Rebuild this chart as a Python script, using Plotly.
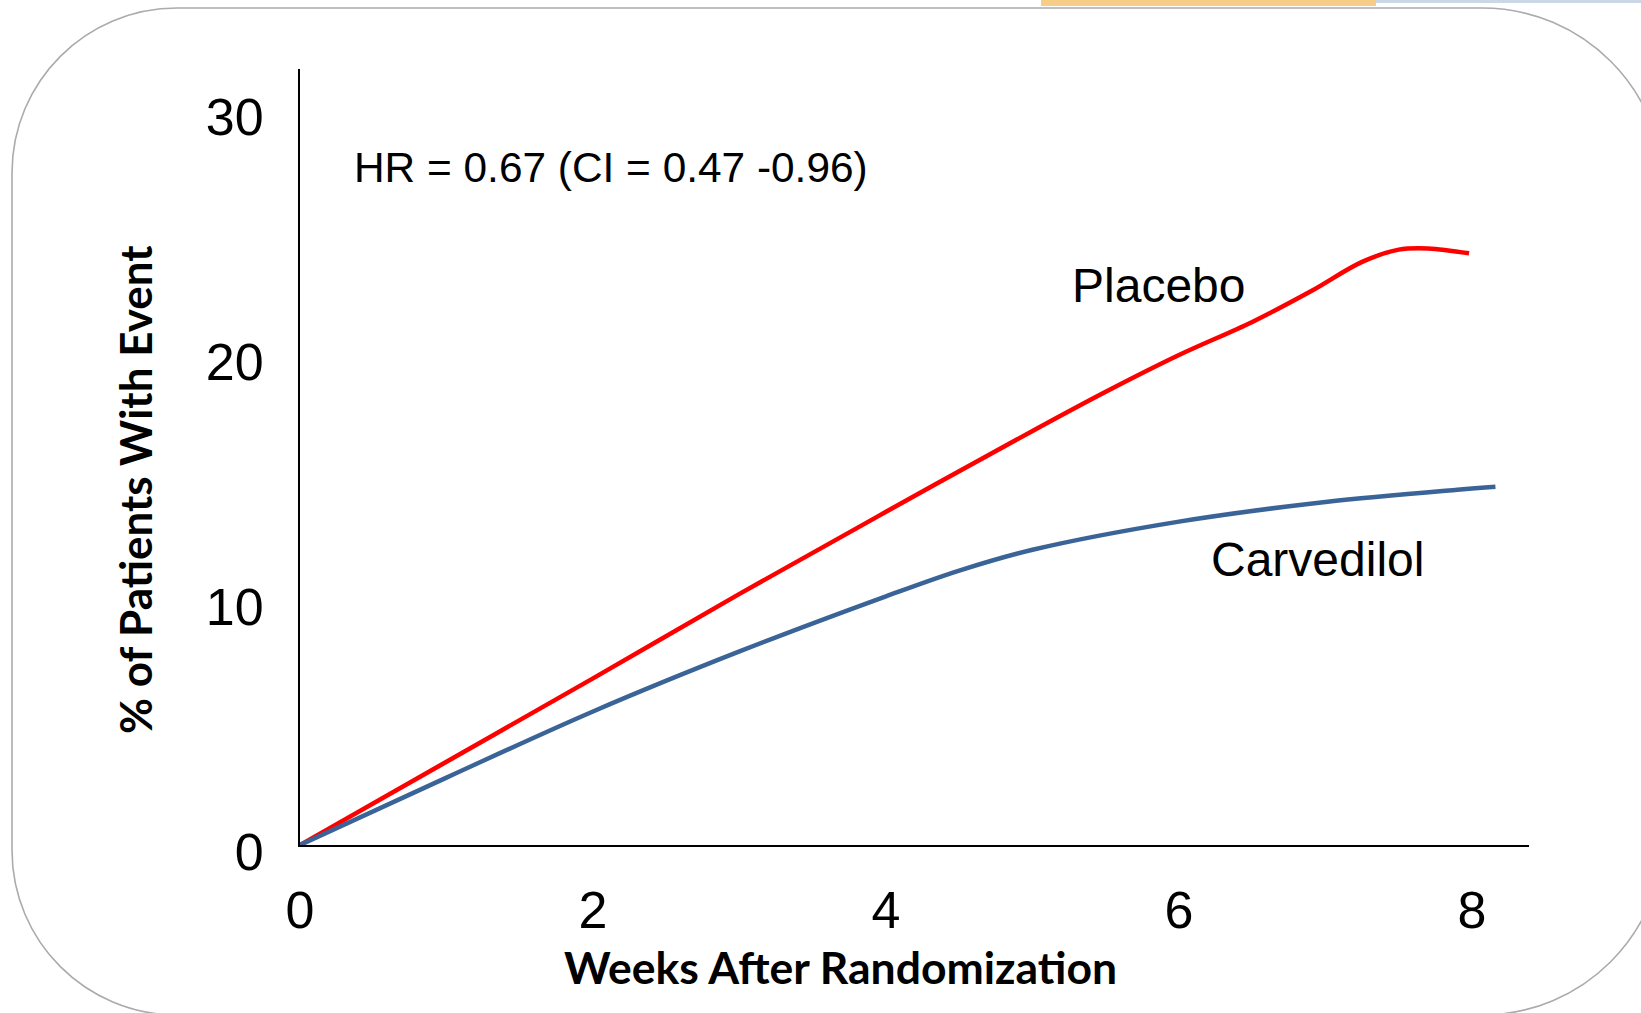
import plotly.graph_objects as go

# ---- data ----
weeks_placebo = [0, 1, 2, 3, 4, 5, 5.5, 6, 6.5, 6.9, 7.25, 7.5, 7.7, 7.98]
pct_placebo = [0, 3.4, 6.8, 10.25, 13.6, 16.9, 18.5, 20.0, 21.35, 22.6, 23.8, 24.3, 24.35, 24.15]
weeks_carvedilol = [0, 1, 2, 3, 4, 4.5, 5, 6, 7, 7.9, 8.16]
pct_carvedilol = [0, 2.75, 5.45, 7.9, 10.15, 11.2, 12.05, 13.2, 14.0, 14.5, 14.62]

x_ticks = [0, 2, 4, 6, 8]
y_ticks = [0, 10, 20, 30]
series_names = ["Placebo", "Carvedilol"]
hr_text = "HR = 0.67 (CI = 0.47 -0.96)"
x_title = "Weeks After Randomization"
y_title = "% of Patients With Event"

W, H = 1641, 1013
L, R, T, B = 300, 1529, 69, 845  # plot area in pixels


def px(X):
    return (X - L) / (R - L)


def py(Y):
    return (B - Y) / (B - T)


fig = go.Figure()
fig.add_trace(go.Scatter(x=weeks_placebo, y=pct_placebo, mode="lines", name=series_names[0],
                         line=dict(color="#FF0000", width=4.5, shape="spline", smoothing=1.0),
                         cliponaxis=False))
fig.add_trace(go.Scatter(x=weeks_carvedilol, y=pct_carvedilol, mode="lines", name=series_names[1],
                         line=dict(color="#3A6497", width=4.5, shape="spline", smoothing=1.0),
                         cliponaxis=False))

# rounded border (pixel geometry converted to paper coords)
k = 0.5523
bl, bt, bb, br = 12, 8, 1015, 1664
rl, rr = 165, 182


def P(X, Y):
    return f"{px(X):.5f},{py(Y):.5f}"


path = (
    f"M {P(bl + rl, bt)} L {P(br - rr, bt)} "
    f"C {P(br - rr + k * rr, bt)} {P(br, bt + rr - k * rr)} {P(br, bt + rr)} "
    f"L {P(br, bb - rr)} "
    f"C {P(br, bb - rr + k * rr)} {P(br - rr + k * rr, bb)} {P(br - rr, bb)} "
    f"L {P(bl + rl, bb)} "
    f"C {P(bl + rl - k * rl, bb)} {P(bl, bb - rl + k * rl)} {P(bl, bb - rl)} "
    f"L {P(bl, bt + rl)} "
    f"C {P(bl, bt + rl - k * rl)} {P(bl + rl - k * rl, bt)} {P(bl + rl, bt)} Z"
)
shapes = [
    dict(type="path", xref="paper", yref="paper", path=path,
         line=dict(color="#ABABAB", width=1.6), layer="below"),
    dict(type="rect", xref="paper", yref="paper", x0=px(1041), x1=px(1376), y0=py(0), y1=py(6),
         fillcolor="#F8CD88", line=dict(width=0), layer="below"),
    dict(type="rect", xref="paper", yref="paper", x0=px(1376), x1=px(1641), y0=py(0), y1=py(3),
         fillcolor="#C9D7E6", line=dict(width=0), layer="below"),
]

txt = dict(family="Liberation Sans, Arial, sans-serif", color="black")
ttl_x = dict(family="Lato, Open Sans, sans-serif", color="black", size=44.5, weight="bold")
ttl_y = dict(family="Lato, Open Sans, sans-serif", color="black", size=44, weight="bold")
annotations = [
    dict(text=hr_text, xref="paper", yref="paper", x=px(352), y=py(167), xanchor="left",
         yanchor="middle", showarrow=False, font=dict(size=42.4, **txt)),
    dict(text=series_names[0], xref="paper", yref="paper", x=px(1070), y=py(285), xanchor="left",
         yanchor="middle", showarrow=False, font=dict(size=48, **txt)),
    dict(text=series_names[1], xref="paper", yref="paper", x=px(1209), y=py(559), xanchor="left",
         yanchor="middle", showarrow=False, font=dict(size=48, **txt)),
    dict(text="<b>" + x_title + "</b>", xref="paper", yref="paper", x=px(840), y=py(967),
         xanchor="center", yanchor="middle", showarrow=False, font=ttl_x),
    dict(text="<b>" + y_title + "</b>", xref="paper", yref="paper", x=px(135), y=py(490),
         xanchor="center", yanchor="middle", showarrow=False, textangle=-90, font=ttl_y),
]

fig.update_layout(
    width=W, height=H,
    margin=dict(l=L, r=W - R, t=T, b=H - B, pad=0),
    paper_bgcolor="white", plot_bgcolor="white",
    showlegend=False,
    shapes=shapes, annotations=annotations,
    xaxis=dict(range=[0, (R - L) / 146.5], tickvals=x_ticks, ticktext=[str(v) for v in x_ticks],
               showgrid=False, zeroline=False, showline=True, linecolor="black", linewidth=2,
               ticks="", tickfont=dict(size=52, **txt), ticklabelstandoff=19),
    yaxis=dict(range=[0, (B - T) / 24.5], tickvals=y_ticks, ticktext=[str(v) for v in y_ticks],
               showgrid=False, zeroline=False, showline=True, linecolor="black", linewidth=2,
               ticks="", tickfont=dict(size=52, **txt), ticklabelstandoff=24,
               ticklabelshift=7),
)

fig.write_html("out.html", config={"displayModeBar": False},
               post_script="document.body.style.margin='0';document.body.style.overflow='hidden';")
